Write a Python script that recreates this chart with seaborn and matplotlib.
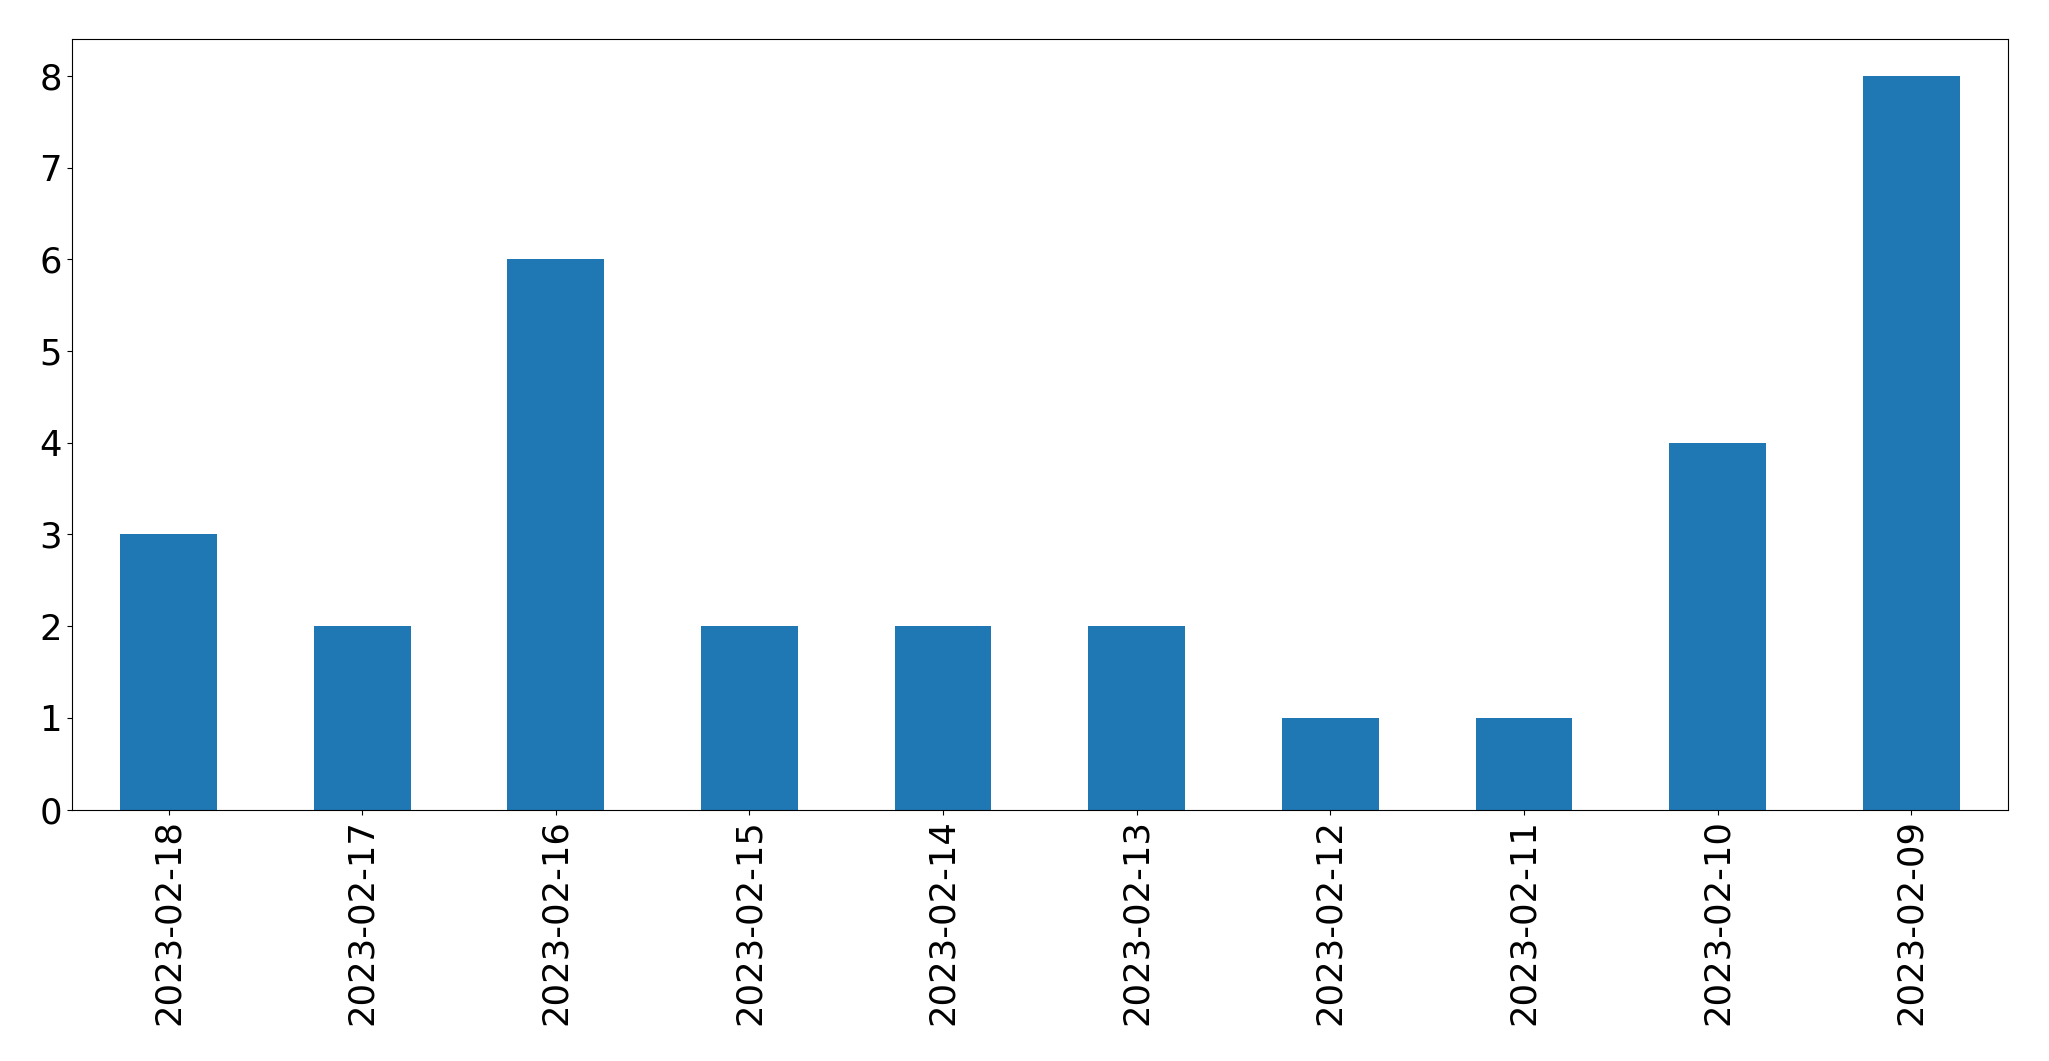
import matplotlib
matplotlib.use("Agg")
import matplotlib.pyplot as plt
import seaborn as sns
import pandas as pd

dates = ["2023-02-18", "2023-02-17", "2023-02-16", "2023-02-15", "2023-02-14",
         "2023-02-13", "2023-02-12", "2023-02-11", "2023-02-10", "2023-02-09"]
counts = [3, 2, 6, 2, 2, 2, 1, 1, 4, 8]

df = pd.DataFrame({"date": dates, "count": counts})

fig, ax = plt.subplots(figsize=(20.49, 10.61), dpi=100)
sns.barplot(data=df, x="date", y="count", order=dates, color="#1f77b4",
            saturation=1, width=0.5, ax=ax)
ax.set_xlabel("")
ax.set_ylabel("")
ax.set_xlim(-0.5, len(dates) - 0.5)
ax.set_ylim(0, 8.4)
ax.tick_params(axis="both", labelsize=25.5)
plt.setp(ax.get_xticklabels(), rotation=90)
fig.subplots_adjust(left=0.035, right=0.98, top=0.963, bottom=0.237)
fig.savefig("out.png", dpi=100)
